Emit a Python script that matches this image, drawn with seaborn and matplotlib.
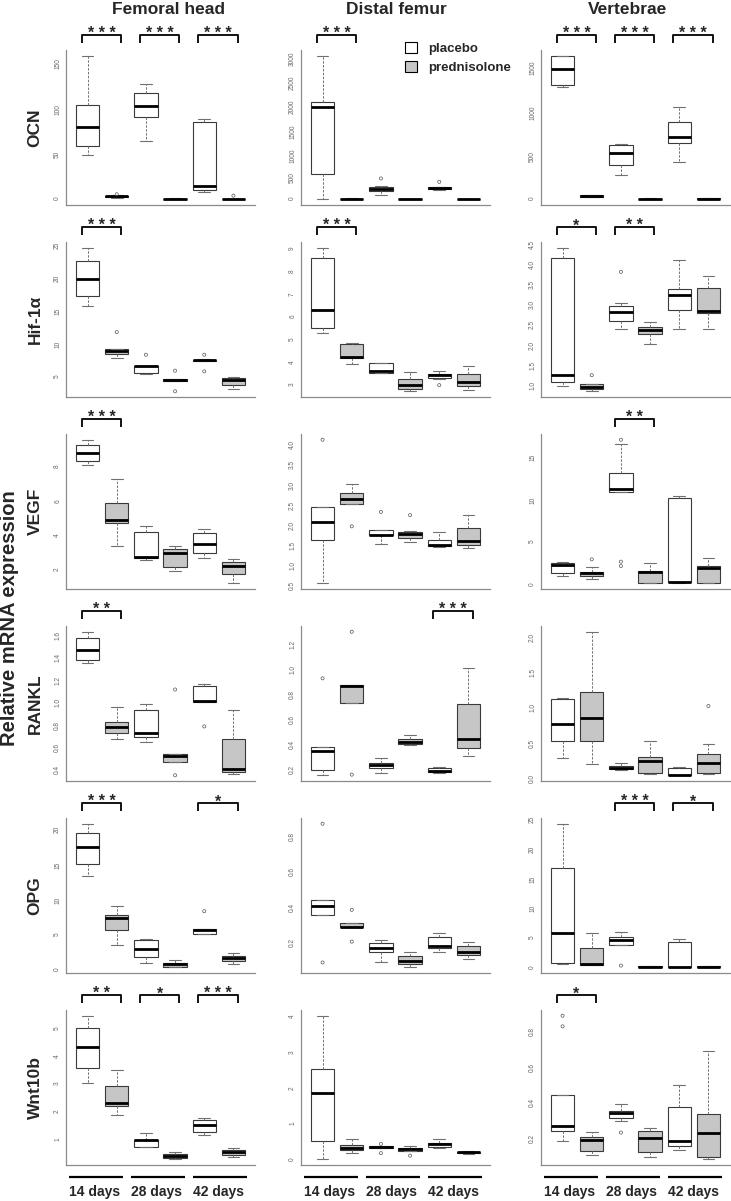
import numpy as np
import pandas as pd
import matplotlib
matplotlib.use("Agg")
import matplotlib.pyplot as plt
from matplotlib.patches import Patch
import seaborn as sns

# ---- data ---------------------------------------------------------------
GROUPS = ['14 days placebo', '14 days prednisolone', '28 days placebo',
          '28 days prednisolone', '42 days placebo', '42 days prednisolone']
TREATMENT = ['placebo', 'prednisolone'] * 3
DAYS = ['14 days', '28 days', '42 days']
TISSUES = ['Femoral head', 'Distal femur', 'Vertebrae']
GENES = ['OCN', 'Hif-1α', 'VEGF', 'RANKL', 'OPG', 'Wnt10b']

# five-number summaries per box: lower whisker, Q1, median, Q3, upper whisker
FH_OCN = [[48, 58, 78, 102, 155], [1.8, 2.5, 3.2, 3.8, 4.3], [63, 89, 101, 115, 125],
          [0.2, 0.4, 0.6, 0.8, 1.0], [8, 10.5, 14, 84, 87], [0.1, 0.3, 0.5, 0.7, 0.9]]
DF_OCN = [[0, 514, 1914, 2003, 2963], [0, 3, 8, 14, 22], [95, 180, 220, 258, 270],
          [0, 1, 2, 3, 5], [200, 215, 232, 245, 250], [0, 1, 2, 3, 5]]
VT_OCN = [[1238, 1257, 1430, 1578, 1578], [20, 27, 35, 47, 51], [262, 380, 509, 595, 606],
          [0, 3, 5, 8, 14], [411, 615, 689, 854, 1018], [0, 4, 6, 9, 12]]

FH_HIF = [[15.6, 17.2, 19.7, 22.4, 24.4], [7.8, 8.4, 8.9, 9.1, 9.2], [5.4, 5.5, 6.6, 6.65, 6.65],
          [4.3, 4.35, 4.5, 4.6, 4.65], [7.3, 7.35, 7.45, 7.55, 7.6], [3.1, 3.75, 4.5, 4.75, 5.0]]
DF_HIF = [[5.3, 5.5, 6.3, 8.59, 9.06], [3.95, 4.19, 4.24, 4.8, 4.87], [3.52, 3.54, 3.62, 3.98, 3.99],
          [2.73, 2.84, 3.02, 3.28, 3.57], [3.29, 3.32, 3.43, 3.5, 3.62], [2.78, 2.95, 3.14, 3.49, 3.85]]
VT_HIF = [[0.94, 1.02, 1.2, 4.12, 4.37], [0.8, 0.86, 0.9, 0.98, 0.99], [2.34, 2.56, 2.76, 2.91, 3.0],
          [1.98, 2.23, 2.32, 2.41, 2.53], [2.34, 2.82, 3.19, 3.34, 4.07], [2.35, 2.75, 2.79, 3.37, 3.66]]

FH_VEGF = [[8.1, 8.35, 8.8, 9.3, 9.6], [3.4, 4.75, 4.9, 5.9, 7.33], [2.55, 2.69, 2.78, 4.2, 4.57],
           [1.96, 2.16, 2.98, 3.2, 3.4], [2.67, 2.98, 3.53, 4.14, 4.4], [1.22, 1.75, 2.25, 2.45, 2.63]]
DF_VEGF = [[0.5, 1.57, 2.03, 2.39, 2.39], [2.48, 2.48, 2.61, 2.74, 2.97], [1.48, 1.70, 1.71, 1.84, 1.84],
           [1.54, 1.64, 1.72, 1.79, 1.80], [1.41, 1.44, 1.46, 1.57, 1.77], [1.38, 1.46, 1.56, 1.88, 2.2]]
VT_VEGF = [[1.02, 1.3, 2.32, 2.48, 2.6], [0.7, 1.02, 1.3, 1.46, 2.0], [10.8, 10.85, 11.2, 13.1, 16.45],
           [0.15, 0.2, 1.5, 1.57, 2.48], [0.2, 0.24, 0.31, 10.16, 10.43], [0.15, 0.2, 1.89, 2.2, 3.15]]

FH_RANKL = [[1.333, 1.36, 1.45, 1.56, 1.616], [0.66, 0.715, 0.765, 0.81, 0.94], [0.63, 0.68, 0.715, 0.916, 0.97],
            [0.448, 0.448, 0.51, 0.52, 0.52], [0.988, 0.988, 1.0, 1.13, 1.147], [0.343, 0.367, 0.394, 0.655, 0.92]]
DF_RANKL = [[0.135, 0.18, 0.33, 0.36, 0.36], [0.72, 0.72, 0.853, 0.86, 0.86], [0.153, 0.195, 0.215, 0.23, 0.27],
            [0.382, 0.388, 0.403, 0.424, 0.456], [0.15, 0.162, 0.17, 0.197, 0.203], [0.288, 0.353, 0.424, 0.709, 1.0]]
VT_RANKL = [[0.27, 0.51, 0.745, 1.1, 1.11], [0.18, 0.5, 0.83, 1.2, 2.05], [0.094, 0.11, 0.12, 0.15, 0.19],
            [0.04, 0.047, 0.22, 0.28, 0.51], [0.02, 0.024, 0.024, 0.127, 0.137], [0.04, 0.047, 0.19, 0.32, 0.46]]

FH_OPG = [[13.3, 15.06, 17.4, 19.4, 20.7], [3.58, 5.74, 7.3, 7.8, 9.0], [1.04, 1.84, 2.92, 4.28, 4.42],
          [0.4, 0.47, 0.8, 0.99, 1.36], [5.13, 5.13, 5.6, 5.83, 5.83], [0.9, 1.27, 1.65, 2.02, 2.45]]
DF_OPG = [[0.344, 0.344, 0.394, 0.43, 0.43], [0.274, 0.274, 0.278, 0.297, 0.297], [0.075, 0.135, 0.156, 0.187, 0.2],
          [0.048, 0.066, 0.081, 0.112, 0.133], [0.135, 0.158, 0.168, 0.218, 0.24], [0.093, 0.116, 0.135, 0.166, 0.193]]
VT_OPG = [[0.6, 0.73, 5.7, 16.6, 24.0], [0.4, 0.45, 0.6, 3.2, 5.7], [3.7, 3.75, 4.5, 5.1, 6.0],
          [0.02, 0.05, 0.1, 0.15, 0.22], [0.03, 0.05, 0.1, 4.2, 4.8], [0.02, 0.05, 0.1, 0.15, 0.2]]

FH_WNT = [[3.05, 3.59, 4.36, 5.02, 5.48], [1.88, 2.23, 2.33, 2.93, 3.5], [0.73, 0.75, 0.97, 0.98, 1.24],
          [0.29, 0.33, 0.42, 0.48, 0.55], [1.18, 1.27, 1.52, 1.7, 1.8], [0.36, 0.45, 0.56, 0.62, 0.68]]
DF_WNT = [[0.02, 0.52, 1.88, 2.55, 4.03], [0.2, 0.28, 0.33, 0.43, 0.59], [0.34, 0.34, 0.36, 0.38, 0.38],
          [0.26, 0.26, 0.3, 0.33, 0.38], [0.33, 0.37, 0.44, 0.47, 0.59], [0.17, 0.2, 0.22, 0.23, 0.25]]
VT_WNT = [[0.175, 0.227, 0.257, 0.43, 0.43], [0.094, 0.114, 0.178, 0.196, 0.224], [0.284, 0.304, 0.33, 0.343, 0.38],
          [0.082, 0.11, 0.188, 0.227, 0.243], [0.122, 0.145, 0.171, 0.363, 0.49], [0.069, 0.082, 0.216, 0.322, 0.68]]

# outliers: (box index, value)
FH_OCN_OUT = [(1, 5.5), (5, 4.0)]
DF_OCN_OUT = [(2, 430), (4, 360)]
VT_OCN_OUT = []
FH_HIF_OUT = [(1, 11.7), (2, 8.3), (3, 5.9), (3, 2.8), (4, 8.3), (4, 5.8)]
DF_HIF_OUT = [(4, 3.0)]
VT_HIF_OUT = [(1, 1.2), (2, 3.77)]
FH_VEGF_OUT = []
DF_VEGF_OUT = [(0, 4.08), (1, 1.92), (2, 2.28), (3, 2.2)]
VT_VEGF_OUT = [(1, 2.95), (2, 16.97), (2, 2.68), (2, 2.17)]
FH_RANKL_OUT = [(3, 1.1), (3, 0.334), (4, 0.77)]
DF_RANKL_OUT = [(0, 0.915), (1, 1.29), (1, 0.14)]
VT_RANKL_OUT = [(5, 1.0)]
FH_OPG_OUT = [(4, 8.33)]
DF_OPG_OUT = [(0, 0.86), (0, 0.075), (1, 0.373), (1, 0.193)]
VT_OPG_OUT = [(2, 0.3)]
FH_WNT_OUT = []
DF_WNT_OUT = [(2, 0.45), (2, 0.19), (3, 0.12)]
VT_WNT_OUT = [(0, 0.88), (0, 0.82), (2, 0.22)]

# y ticks
FH_OCN_TICKS = [0, 50, 100, 150]
DF_OCN_TICKS = [0, 500, 1000, 1500, 2000, 2500, 3000]
VT_OCN_TICKS = [0, 500, 1000, 1500]
FH_HIF_TICKS = [5, 10, 15, 20, 25]
DF_HIF_TICKS = [3, 4, 5, 6, 7, 8, 9]
VT_HIF_TICKS = [1.0, 1.5, 2.0, 2.5, 3.0, 3.5, 4.0, 4.5]
FH_VEGF_TICKS = [2, 4, 6, 8]
DF_VEGF_TICKS = [0.5, 1.0, 1.5, 2.0, 2.5, 3.0, 3.5, 4.0]
VT_VEGF_TICKS = [0, 5, 10, 15]
FH_RANKL_TICKS = [0.4, 0.6, 0.8, 1.0, 1.2, 1.4, 1.6]
DF_RANKL_TICKS = [0.2, 0.4, 0.6, 0.8, 1.0, 1.2]
VT_RANKL_TICKS = [0.0, 0.5, 1.0, 1.5, 2.0]
FH_OPG_TICKS = [0, 5, 10, 15, 20]
DF_OPG_TICKS = [0.2, 0.4, 0.6, 0.8]
VT_OPG_TICKS = [0, 5, 10, 15, 20, 25]
FH_WNT_TICKS = [1, 2, 3, 4, 5]
DF_WNT_TICKS = [0, 1, 2, 3, 4]
VT_WNT_TICKS = [0.2, 0.4, 0.6, 0.8]

# significance brackets: (left box index, stars)
FH_OCN_SIG = [(0, '***'), (2, '***'), (4, '***')]
DF_OCN_SIG = [(0, '***')]
VT_OCN_SIG = [(0, '***'), (2, '***'), (4, '***')]
FH_HIF_SIG = [(0, '***')]
DF_HIF_SIG = [(0, '***')]
VT_HIF_SIG = [(0, '*'), (2, '**')]
FH_VEGF_SIG = [(0, '***')]
DF_VEGF_SIG = []
VT_VEGF_SIG = [(2, '**')]
FH_RANKL_SIG = [(0, '**')]
DF_RANKL_SIG = [(4, '***')]
VT_RANKL_SIG = []
FH_OPG_SIG = [(0, '***'), (4, '*')]
DF_OPG_SIG = []
VT_OPG_SIG = [(2, '***'), (4, '*')]
FH_WNT_SIG = [(0, '**'), (2, '*'), (4, '***')]
DF_WNT_SIG = []
VT_WNT_SIG = [(0, '*')]

PANELS = [
    [(FH_OCN, FH_OCN_OUT, FH_OCN_TICKS, FH_OCN_SIG), (DF_OCN, DF_OCN_OUT, DF_OCN_TICKS, DF_OCN_SIG),
     (VT_OCN, VT_OCN_OUT, VT_OCN_TICKS, VT_OCN_SIG)],
    [(FH_HIF, FH_HIF_OUT, FH_HIF_TICKS, FH_HIF_SIG), (DF_HIF, DF_HIF_OUT, DF_HIF_TICKS, DF_HIF_SIG),
     (VT_HIF, VT_HIF_OUT, VT_HIF_TICKS, VT_HIF_SIG)],
    [(FH_VEGF, FH_VEGF_OUT, FH_VEGF_TICKS, FH_VEGF_SIG), (DF_VEGF, DF_VEGF_OUT, DF_VEGF_TICKS, DF_VEGF_SIG),
     (VT_VEGF, VT_VEGF_OUT, VT_VEGF_TICKS, VT_VEGF_SIG)],
    [(FH_RANKL, FH_RANKL_OUT, FH_RANKL_TICKS, FH_RANKL_SIG), (DF_RANKL, DF_RANKL_OUT, DF_RANKL_TICKS, DF_RANKL_SIG),
     (VT_RANKL, VT_RANKL_OUT, VT_RANKL_TICKS, VT_RANKL_SIG)],
    [(FH_OPG, FH_OPG_OUT, FH_OPG_TICKS, FH_OPG_SIG), (DF_OPG, DF_OPG_OUT, DF_OPG_TICKS, DF_OPG_SIG),
     (VT_OPG, VT_OPG_OUT, VT_OPG_TICKS, VT_OPG_SIG)],
    [(FH_WNT, FH_WNT_OUT, FH_WNT_TICKS, FH_WNT_SIG), (DF_WNT, DF_WNT_OUT, DF_WNT_TICKS, DF_WNT_SIG),
     (VT_WNT, VT_WNT_OUT, VT_WNT_TICKS, VT_WNT_SIG)],
]

PALETTE = {'placebo': 'white', 'prednisolone': '#c6c6c6'}

# ---- layout (pixels) --------------------------------------------------
W, H = 731, 1201
COL_LEFT = [66, 301, 541]
COL_W = 189
ROW_BOTTOM = [205, 397, 589, 781, 973, 1165]
ROW_H = 155


def fmt_tick(t, ticks):
    if all(float(v).is_integer() for v in ticks):
        return '%d' % t
    return '%.1f' % t


def draw_panel(ax, summary, outliers, ticks, sig):
    df = pd.DataFrame({
        'group': np.repeat(GROUPS, 5),
        'treatment': np.repeat(TREATMENT, 5),
        'value': np.concatenate([np.asarray(b, float) for b in summary]),
    })
    sns.boxplot(data=df, x='group', y='value', hue='treatment', order=GROUPS,
                hue_order=['placebo', 'prednisolone'], palette=PALETTE,
                dodge=False, width=0.8, whis=(0, 100), showfliers=False,
                linecolor='#3a3a3a', linewidth=0.8, legend=False, ax=ax,
                medianprops={'color': 'black', 'linewidth': 2.0},
                whiskerprops={'color': '#707070', 'linewidth': 0.7, 'linestyle': (0, (2.5, 1.5))},
                capprops={'color': '#707070', 'linewidth': 0.8})
    if outliers:
        sns.scatterplot(x=[o[0] for o in outliers], y=[o[1] for o in outliers], ax=ax,
                        marker='o', s=5, facecolors='none', edgecolor='#555555',
                        linewidth=0.5, legend=False, zorder=4)

    vals = [v for b in summary for v in b] + [o[1] for o in outliers]
    lo, hi = min(vals), max(vals)
    pad = 0.04 * (hi - lo)
    ax.set_ylim(lo - pad, hi + pad)
    ax.set_xlim(-0.74, 5.74)
    ax.set_xticks([])
    ax.set_yticks(ticks, [fmt_tick(t, ticks) for t in ticks])
    ax.set_xlabel('')
    ax.set_ylabel('')
    ax.tick_params(axis='y', labelrotation=90, labelsize=4.7, length=2, width=0.5,
                   colors='#666666', pad=1.5)
    sns.despine(ax=ax)
    for s in ('left', 'bottom'):
        ax.spines[s].set_color('#8a8a8a')
        ax.spines[s].set_linewidth(0.9)

    tr = ax.get_xaxis_transform()
    for i, stars in sig:
        x0, x1 = i - 0.2, i + 1.15
        ax.plot([x0, x0, x1, x1], [1.045, 1.097, 1.097, 1.045], transform=tr,
                color='black', lw=1.3, clip_on=False, solid_capstyle='butt')
        ax.text((x0 + x1) / 2, 1.075, ' '.join(stars), transform=tr, ha='center',
                va='baseline', fontsize=11.5, fontweight='bold', clip_on=False)


sns.set_style('white')
plt.rcParams['font.family'] = ['Liberation Sans', 'DejaVu Sans']

fig = plt.figure(figsize=(W / 100, H / 100), dpi=100)

axes = []
for r in range(6):
    row = []
    for c in range(3):
        ax = fig.add_axes([COL_LEFT[c] / W, 1 - ROW_BOTTOM[r] / H, COL_W / W, ROW_H / H])
        summary, outliers, ticks, sig = PANELS[r][c]
        draw_panel(ax, summary, outliers, ticks, sig)
        row.append(ax)
    axes.append(row)

# tissue titles
for c, xc in enumerate([168, 396, 627]):
    fig.text(xc / W, 1 - 9 / H, TISSUES[c], ha='center', va='center',
             fontsize=12.5, fontweight='bold')

# gene labels
for r in range(6):
    fig.text(35 / W, 1 - (ROW_BOTTOM[r] - ROW_H / 2) / H, GENES[r], rotation=90,
             ha='center', va='center', fontsize=12.5, fontweight='bold')

fig.text(10 / W, 1 - 618 / H, 'Relative mRNA expression', rotation=90,
         ha='center', va='center', fontsize=14.5, fontweight='bold')

# day labels under the bottom row
for c in range(3):
    ax = axes[5][c]
    tr = ax.get_xaxis_transform()
    for k, day in enumerate(DAYS):
        xc = 2.12 * k + 0.3
        ax.plot([xc - 0.93, xc + 0.93], [-0.077, -0.077], transform=tr, color='black',
                lw=1.6, clip_on=False, solid_capstyle='butt')
        ax.text(xc - 0.05, -0.175, day, transform=tr, ha='center', va='center',
                fontsize=10, fontweight='bold', clip_on=False)

# legend
handles = [Patch(facecolor=PALETTE['placebo'], edgecolor='black', linewidth=0.8),
           Patch(facecolor=PALETTE['prednisolone'], edgecolor='black', linewidth=0.8)]
axes[0][1].legend(handles, ['placebo', 'prednisolone'], loc='upper left',
                  bbox_to_anchor=(400 / W, 1 - 37 / H), bbox_transform=fig.transFigure,
                  frameon=False, handlelength=0.9, handleheight=0.9,
                  handletextpad=0.8, labelspacing=0.45, borderaxespad=0,
                  prop={'weight': 'bold', 'size': 9.5})

fig.savefig('out.png', dpi=100)
